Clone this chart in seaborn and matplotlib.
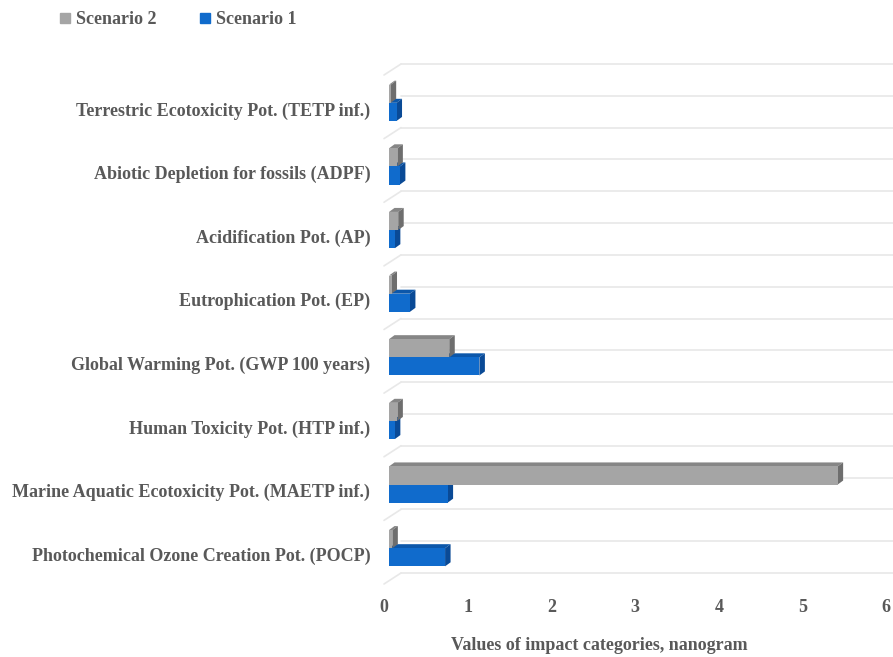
import numpy as np
import pandas as pd
import seaborn as sns
import matplotlib
matplotlib.use("Agg")
import matplotlib.pyplot as plt
from matplotlib.patches import Polygon
from matplotlib.lines import Line2D
from matplotlib.transforms import ScaledTranslation

# Impact categories, top to bottom
categories = [
    "Terrestric Ecotoxicity Pot. (TETP inf.)",
    "Abiotic Depletion for fossils (ADPF)",
    "Acidification Pot. (AP)",
    "Eutrophication Pot. (EP)",
    "Global Warming Pot. (GWP 100 years)",
    "Human Toxicity Pot. (HTP inf.)",
    "Marine Aquatic Ecotoxicity Pot. (MAETP inf.)",
    "Photochemical Ozone Creation Pot. (POCP)",
]
scenario_1 = [0.09, 0.13, 0.07, 0.25, 1.08, 0.07, 0.70, 0.67]
scenario_2 = [0.02, 0.10, 0.11, 0.03, 0.72, 0.10, 5.36, 0.04]
series = ["Scenario 2", "Scenario 1"]
x_ticks = [0, 1, 2, 3, 4, 5, 6]
x_title = "Values of impact categories, nanogram"

df = pd.DataFrame({
    "category": categories * 2,
    "scenario": [series[0]] * len(categories) + [series[1]] * len(categories),
    "value": scenario_2 + scenario_1,
})

sns.set_style("white")
plt.rcParams["font.family"] = ["Liberation Serif", "DejaVu Serif"]
plt.rcParams["font.weight"] = "bold"

TEXT = "#595959"
FS = 13
front = {"Scenario 2": "#A5A5A5", "Scenario 1": "#106BCC"}
top_c = {"Scenario 2": "#868686", "Scenario 1": "#0C57AA"}
side_c = {"Scenario 2": "#6E6E6E", "Scenario 1": "#0A4A96"}

W, H = 893, 657
fig = plt.figure(figsize=(W / 100, H / 100), dpi=100)
ax_l, ax_r, ax_t, ax_b = 389, 893, 71, 580
ax = fig.add_axes([ax_l / W, 1 - ax_b / H, (ax_r - ax_l) / W, (ax_b - ax_t) / H])

sns.barplot(data=df, y="category", x="value", hue="scenario", hue_order=series,
            order=categories, orient="h", palette=front, width=0.57, dodge=True,
            saturation=1, legend=False, ax=ax, zorder=3, linewidth=0)

px_per_x = 83.7
xmax = (ax_r - ax_l) / px_per_x
ax.set_xlim(0, xmax)
ax.set_ylim(len(categories) - 0.5, -0.5)
px_per_y = (ax_b - ax_t) / len(categories)

# depth of the bars (pixels converted to data units)
bdx, bdy = 5.5 / px_per_x, 4 / px_per_y
for p in list(ax.patches):
    fc = matplotlib.colors.to_hex(p.get_facecolor())
    key = "Scenario 2" if fc.lower() == front["Scenario 2"].lower() else "Scenario 1"
    x0, x1 = p.get_x(), p.get_x() + p.get_width()
    yt, yb = p.get_y(), p.get_y() + p.get_height()
    z = 2.5 if key == "Scenario 2" else 2.0
    ax.add_patch(Polygon([(x0, yt), (x1, yt), (x1 + bdx, yt - bdy), (x0 + bdx, yt - bdy)],
                         closed=True, facecolor=top_c[key], edgecolor="none", zorder=z))
    ax.add_patch(Polygon([(x1, yt), (x1, yb), (x1 + bdx, yb - bdy), (x1 + bdx, yt - bdy)],
                         closed=True, facecolor=side_c[key], edgecolor="none", zorder=z))

# back wall gridlines and floor edges
wall_dx, wall_dy = 12 / px_per_x, 7 / px_per_y
floor_dx, floor_dy = -5 / px_per_x, 4 / px_per_y
grid_c = "#E8E8E8"
for k in range(2 * len(categories) + 1):
    yv = -0.5 + 0.5 * k
    ax.plot([wall_dx, xmax], [yv - wall_dy] * 2, color=grid_c, lw=1.2, zorder=1, clip_on=False)
    if k % 2 == 0:
        ax.plot([floor_dx, wall_dx], [yv + floor_dy, yv - wall_dy], color=grid_c, lw=1.2,
                zorder=1, clip_on=False)

for s in ax.spines.values():
    s.set_visible(False)
ax.set_xlabel("")
ax.set_ylabel("")
ax.set_xticks(x_ticks)
ax.set_xticklabels([str(t) for t in x_ticks], fontsize=FS, color=TEXT, fontweight="bold")
ax.set_yticks(range(len(categories)))
ax.set_yticklabels(categories, fontsize=FS, color=TEXT, fontweight="bold")
ax.tick_params(axis="both", length=0)
ax.tick_params(axis="y", pad=13.5)
ax.tick_params(axis="x", pad=14)
ax.grid(False)

for lab in ax.get_xticklabels():
    lab.set_transform(lab.get_transform() + ScaledTranslation(-0.05, 0, fig.dpi_scale_trans))
for lab in ax.get_yticklabels():
    lab.set_transform(lab.get_transform() + ScaledTranslation(0, -0.06, fig.dpi_scale_trans))

fig.text(599 / W, 1 - 645 / H, x_title, ha="center", va="center", fontsize=FS,
         color=TEXT, fontweight="bold")

handles = [Line2D([], [], marker="s", ls="", color=front[s], markersize=7) for s in series]
fig.legend(handles, series, loc="center left", bbox_to_anchor=(60 / W, 1 - 20 / H),
           ncol=2, frameon=False, handlelength=0.6, handletextpad=0.3, columnspacing=2.4,
           prop={"size": FS, "weight": "bold"}, labelcolor=TEXT, borderaxespad=0, borderpad=0)

fig.savefig("out.png", dpi=100, facecolor="white")
